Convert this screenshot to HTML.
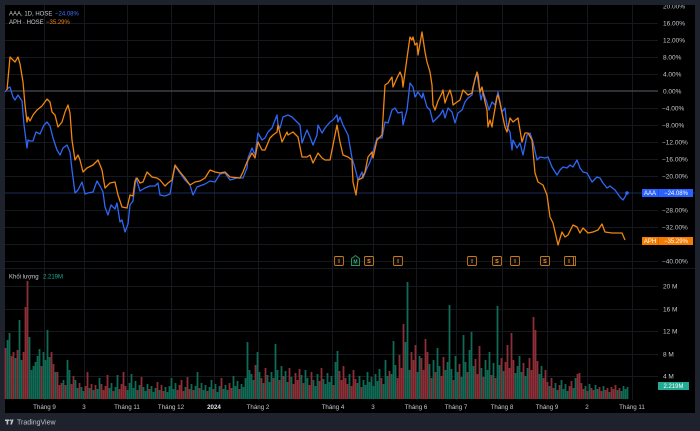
<!DOCTYPE html>
<html><head><meta charset="utf-8">
<style>
html,body{margin:0;padding:0;background:#1e222d;}
svg{display:block;}
text{font-family:"Liberation Sans",sans-serif;}
</style></head>
<body>
<svg width="700" height="431" viewBox="0 0 700 431" xmlns="http://www.w3.org/2000/svg">
<rect x="0" y="0" width="700" height="431" fill="#1e222d"/>
<rect x="5" y="5" width="690" height="408" fill="#000"/>
<g stroke="#15181e" stroke-width="1">
<line x1="5" y1="23.5" x2="658" y2="23.5"/><line x1="5" y1="40.5" x2="658" y2="40.5"/><line x1="5" y1="57.5" x2="658" y2="57.5"/><line x1="5" y1="74.5" x2="658" y2="74.5"/>
<line x1="5" y1="108.5" x2="658" y2="108.5"/><line x1="5" y1="125.5" x2="658" y2="125.5"/><line x1="5" y1="142.5" x2="658" y2="142.5"/><line x1="5" y1="159.5" x2="658" y2="159.5"/><line x1="5" y1="176.5" x2="658" y2="176.5"/><line x1="5" y1="210.5" x2="658" y2="210.5"/><line x1="5" y1="227.5" x2="658" y2="227.5"/><line x1="5" y1="244.5" x2="658" y2="244.5"/><line x1="5" y1="261.5" x2="658" y2="261.5"/>
<line x1="5" y1="268.5" x2="695" y2="268.5"/>
<line x1="5" y1="286.5" x2="658" y2="286.5"/><line x1="5" y1="309.5" x2="658" y2="309.5"/><line x1="5" y1="331.5" x2="658" y2="331.5"/><line x1="5" y1="354.5" x2="658" y2="354.5"/><line x1="5" y1="376.5" x2="658" y2="376.5"/>
<line x1="44.5" y1="5" x2="44.5" y2="400"/><line x1="84.5" y1="5" x2="84.5" y2="400"/><line x1="127.5" y1="5" x2="127.5" y2="400"/><line x1="171.5" y1="5" x2="171.5" y2="400"/><line x1="214.5" y1="5" x2="214.5" y2="400"/><line x1="258.5" y1="5" x2="258.5" y2="400"/><line x1="332.5" y1="5" x2="332.5" y2="400"/><line x1="373.5" y1="5" x2="373.5" y2="400"/><line x1="416.5" y1="5" x2="416.5" y2="400"/><line x1="456.5" y1="5" x2="456.5" y2="400"/><line x1="502.5" y1="5" x2="502.5" y2="400"/><line x1="547.5" y1="5" x2="547.5" y2="400"/><line x1="587.5" y1="5" x2="587.5" y2="400"/><line x1="632.5" y1="5" x2="632.5" y2="400"/>
</g>
<line x1="5" y1="91" x2="658" y2="91" stroke="#4a4d55" stroke-width="1.2"/>
<line x1="5" y1="193" x2="695" y2="193" stroke="#1b2b5c" stroke-width="1"/>
<!-- volume bars -->
<g transform="translate(0.5,0)" stroke-width="1.8" fill="none">
<path stroke="#8e2e36" d="M5 399V348M11 399V356M13 399V352M17 399V350M23 399V352M25 399V307M27 399V281M41 399V366M51 399V352M53 399V364M57 399V372M59 399V385M61 399V383M65 399V385M71 399V384M73 399V376M79 399V383M85 399V386M87 399V372M91 399V384M95 399V385M101 399V384M103 399V390M105 399V386M107 399V375M113 399V391M119 399V389M121 399V384M123 399V372M125 399V386M137 399V390M141 399V377M149 399V389M157 399V382M161 399V385M163 399V391M177 399V390M179 399V385M181 399V380M183 399V391M187 399V377M189 399V389M193 399V390M199 399V388M207 399V391M213 399V389M221 399V378M229 399V383M231 399V388M239 399V389M255 399V365M261 399V378M265 399V368M273 399V378M279 399V380M283 399V376M289 399V368M293 399V384M295 399V373M297 399V380M299 399V369M303 399V383M309 399V385M311 399V372M319 399V381M321 399V368M333 399V385M339 399V371M341 399V380M343 399V366M345 399V378M347 399V384M351 399V386M353 399V370M355 399V379M361 399V387M381 399V378M389 399V371M397 399V378M399 399V355M401 399V368M403 399V324M411 399V352M413 399V360M415 399V345M421 399V358M423 399V370M425 399V339M427 399V352M431 399V378M435 399V372M441 399V376M443 399V357M453 399V380M459 399V364M467 399V372M475 399V359M477 399V374M479 399V346M483 399V377M491 399V375M495 399V378M501 399V358M505 399V362M507 399V345M509 399V368M511 399V333M513 399V360M523 399V363M529 399V358M531 399V370M533 399V317M535 399V330M537 399V361M543 399V378M545 399V370M547 399V382M551 399V378M553 399V388M559 399V385M569 399V386M571 399V381M577 399V374M579 399V373M581 399V383M583 399V389M587 399V391M591 399V388M593 399V390M599 399V387M601 399V391M605 399V390M607 399V388M611 399V387M613 399V389M615 399V385M619 399V388"/>
<path stroke="#0f6a56" d="M7 399V340M9 399V333M15 399V358M19 399V320M21 399V360M29 399V337M31 399V370M33 399V366M35 399V362M37 399V356M39 399V349M43 399V352M45 399V360M47 399V330M49 399V357M55 399V372M63 399V380M67 399V360M69 399V370M75 399V380M77 399V388M81 399V387M83 399V391M89 399V388M93 399V390M97 399V389M99 399V378M109 399V388M111 399V383M115 399V387M117 399V375M127 399V390M129 399V383M131 399V374M133 399V388M135 399V381M139 399V385M143 399V387M145 399V391M147 399V384M151 399V386M153 399V392M155 399V388M159 399V390M165 399V387M167 399V392M169 399V386M171 399V378M173 399V389M175 399V383M185 399V387M191 399V384M195 399V386M197 399V372M201 399V383M203 399V390M205 399V385M209 399V387M211 399V380M215 399V384M217 399V392M219 399V386M223 399V389M225 399V385M227 399V390M233 399V376M235 399V386M237 399V381M241 399V384M243 399V387M245 399V378M247 399V342M249 399V370M251 399V374M253 399V380M257 399V352M259 399V372M263 399V383M267 399V375M269 399V382M271 399V372M275 399V344M277 399V370M281 399V366M285 399V371M287 399V382M291 399V377M301 399V375M305 399V370M307 399V378M313 399V380M315 399V386M317 399V374M323 399V379M325 399V384M327 399V373M329 399V382M331 399V376M335 399V362M337 399V351M349 399V374M357 399V383M359 399V376M363 399V380M365 399V385M367 399V372M369 399V382M371 399V377M373 399V386M375 399V374M377 399V381M379 399V369M383 399V384M385 399V360M387 399V376M391 399V374M393 399V341M395 399V365M405 399V342M407 399V282M409 399V370M417 399V372M419 399V356M429 399V364M433 399V360M437 399V348M439 399V366M445 399V370M447 399V362M449 399V305M451 399V369M455 399V356M457 399V372M461 399V377M463 399V335M465 399V362M469 399V350M471 399V332M473 399V366M481 399V368M485 399V360M487 399V370M489 399V352M493 399V363M497 399V306M499 399V365M503 399V371M515 399V373M517 399V366M519 399V356M521 399V372M525 399V376M527 399V368M539 399V374M541 399V366M549 399V386M555 399V383M557 399V390M561 399V380M563 399V389M565 399V384M567 399V391M573 399V388M575 399V378M585 399V386M589 399V384M595 399V385M597 399V389M603 399V386M609 399V392M617 399V390M621 399V391M623 399V386M625 399V389M627 399V387"/>
</g>
<polyline fill="none" stroke="#2e66f5" stroke-width="1.3" stroke-linejoin="round" points="5,92 8,88 10,87 13,97 15,100 18,95 20,98 22,101 24,125 27,148 28,140 30,141 33,141 36,132 40,134 44,125 47,122 50,126 53,138 57,150 60,155 63,148 67,145 70,152 72,170 75,193 78,190 82,182 85,194 88,193 93,192 97,181 100,186 103,192 105,207 108,215 111,205 115,209 117,203 120,222 122,220 125,232 128,224 130,205 133,201 136,178 140,191 145,188 150,186 155,186 158,183 160,195 165,196 170,194 175,166 180,173 185,180 190,185 193,195 197,187 205,184 210,181 215,182 220,174 225,173 230,180 237,178 243,178 247,168 248,158 252,148 255,155 258,133 262,140 265,138 268,132 272,128 277,115 278,125 280,128 283,117 288,115 292,117 297,122 300,125 302,143 305,135 307,130 310,137 313,145 317,135 318,125 322,133 325,128 330,122 333,120 337,115 338,122 340,117 343,125 348,135 352,158 355,168 358,180 362,172 363,178 367,168 370,162 373,152 377,138 382,138 385,122 388,123 392,110 395,108 398,113 402,112 403,125 407,110 410,83 413,87 415,97 418,92 422,98 423,93 427,107 430,110 433,122 437,118 440,115 443,110 445,118 448,108 452,112 455,123 458,113 462,110 465,102 468,98 472,95 475,78 477,73 479,87 481,100 483,92 487,103 489,110 492,102 495,105 498,92 502,112 505,108 507,127 510,132 512,150 513,140 517,148 520,143 523,155 527,135 530,133 533,142 537,160 540,157 545,158 548,157 552,167 557,175 560,170 563,167 567,168 570,165 573,167 577,160 580,168 583,172 587,173 592,182 597,177 600,178 603,183 607,188 610,186 615,190 620,197 623,200 625,197 627,193"/>
<circle cx="627" cy="193" r="1.8" fill="#2e66f5"/>
<polyline fill="none" stroke="#f0850f" stroke-width="1.3" stroke-linejoin="round" points="7,90 10,57 13,60 15,62 18,57 20,64 23,82 25,105 27,122 28,117 30,121 33,115 37,110 42,106 47,99 50,102 52,112 55,115 58,127 62,122 65,112 68,105 70,113 72,140 75,160 78,155 80,160 83,172 87,168 93,165 98,160 102,170 105,188 110,183 115,182 118,195 122,207 127,208 130,195 133,196 135,181 137,178 140,183 143,182 147,172 152,177 157,178 160,180 165,186 168,183 172,180 175,165 180,172 185,178 190,185 195,182 200,181 205,178 210,170 215,172 220,173 225,172 230,177 240,178 243,172 247,162 252,153 255,158 258,142 262,150 265,150 270,138 273,135 277,132 278,125 282,142 287,132 288,135 293,132 298,137 302,157 307,157 310,155 313,163 318,153 322,158 325,160 330,160 333,145 337,125 340,142 343,155 348,157 352,160 353,182 356,195 358,180 362,178 365,172 368,157 372,152 373,158 377,140 382,135 385,85 388,83 392,77 393,87 397,78 400,72 402,77 403,87 407,58 410,37 412,40 413,37 415,45 417,43 418,55 422,32 425,52 427,62 430,72 432,85 433,105 435,110 438,101 442,93 443,90 445,103 447,97 450,90 452,97 453,105 457,102 460,100 463,90 465,92 468,95 472,93 473,87 477,72 478,75 480,92 482,87 485,102 487,110 488,127 490,120 492,127 493,120 497,97 498,95 500,103 502,113 505,127 507,132 510,118 513,122 518,118 520,130 522,142 525,133 528,133 532,140 535,173 538,182 543,185 547,195 550,217 553,223 558,245 562,232 565,237 568,235 573,225 577,227 580,233 583,228 588,233 593,232 598,230 602,224 605,232 612,233 622,233 625,240"/>
<!-- markers -->
<g font-size="5.5" font-weight="bold" text-anchor="middle" fill="#e39a3a">
<g stroke="#c47a1c" stroke-width="0.9" fill="#0b0b0b">
<rect x="334.5" y="256.5" width="9" height="9" rx="1.2"/>
<rect x="364.5" y="256.5" width="9" height="9" rx="1.2"/>
<rect x="393.5" y="256.5" width="9" height="9" rx="1.2"/>
<rect x="467.5" y="256.5" width="9" height="9" rx="1.2"/>
<rect x="492.5" y="256.5" width="9" height="9" rx="1.2"/>
<rect x="510.5" y="256.5" width="9" height="9" rx="1.2"/>
<rect x="540.5" y="256.5" width="9" height="9" rx="1.2"/>
<rect x="564.5" y="256.5" width="9" height="9" rx="1.2"/>
<rect x="573.5" y="256.5" width="2" height="9"/>
</g>
<path d="M351.5,258.5 L355.5,255.5 L359.5,258.5 L359.5,265.5 L351.5,265.5 Z" fill="#0b0b0b" stroke="#2a9a6a" stroke-width="0.9"/>
<text x="339" y="263">I</text><text x="369" y="263">S</text><text x="398" y="263">I</text><text x="472" y="263">I</text><text x="497" y="263">S</text><text x="515" y="263">I</text><text x="545" y="263">S</text><text x="569" y="263">I</text>
<text x="355.5" y="263.5" fill="#2fb07a" font-size="5">M</text>
</g>
<!-- price axis labels -->
<g font-size="6.5" fill="#c4c7ce">
<text x="663" y="8.3">20.00%</text><text x="663" y="25.3">16.00%</text><text x="663" y="42.3">12.00%</text><text x="663" y="59.3">8.00%</text><text x="663" y="76.3">4.00%</text><text x="663" y="93.3">0.00%</text><text x="662" y="110.3">−4.00%</text><text x="662" y="127.3">−8.00%</text><text x="662" y="144.3">−12.00%</text><text x="662" y="161.3">−16.00%</text><text x="662" y="178.3">−20.00%</text><text x="662" y="212.3">−28.00%</text><text x="662" y="229.3">−32.00%</text><text x="662" y="263.3">−40.00%</text>
<text x="663" y="288.3">20 M</text><text x="663" y="311.3">16 M</text><text x="663" y="333.3">12 M</text><text x="663" y="356.3">8 M</text><text x="663" y="378.3">4 M</text>
</g>
<!-- badges -->
<rect x="642" y="189" width="51" height="8" fill="#2962ff"/>
<line x1="658.5" y1="189" x2="658.5" y2="197" stroke="#1e4bd0" stroke-width="0.8"/>
<rect x="642" y="237" width="51" height="8" fill="#f57c00"/>
<line x1="658.5" y1="237" x2="658.5" y2="245" stroke="#c86400" stroke-width="0.8"/>
<rect x="658" y="382" width="31" height="8" fill="#22ab94"/>
<g font-size="6" fill="#fff" text-anchor="middle">
<text x="650" y="195.2">AAA</text><text x="676" y="195.2">−24.08%</text>
<text x="650" y="243.2">APH</text><text x="676" y="243.2">−35.29%</text>
<text x="673.5" y="388.2">2.219M</text>
</g>
<!-- legends -->
<g font-size="6">
<text x="9" y="15.5" fill="#c8cad0">AAA, 1D, HOSE</text><text x="55" y="15.5" fill="#3d74f5">−24.08%</text>
<text x="9" y="24" fill="#c8cad0">APH · HOSE</text><text x="46" y="24" fill="#f0850f">−35.29%</text>
<text x="9" y="278.5" fill="#c8cad0">Khối lượng</text><text x="43" y="278.5" fill="#22ab94">2.219M</text>
</g>
<!-- time axis -->
<g font-size="6.2" fill="#c4c7ce" text-anchor="middle">
<text x="44.5" y="409">Tháng 9</text><text x="84" y="409">3</text><text x="127" y="409">Tháng 11</text><text x="171" y="409">Tháng 12</text><text x="214" y="409" font-weight="bold" fill="#e0e2e6">2024</text><text x="258" y="409">Tháng 2</text><text x="333" y="409">Tháng 4</text><text x="373" y="409">3</text><text x="416" y="409">Tháng 6</text><text x="456" y="409">Tháng 7</text><text x="502" y="409">Tháng 8</text><text x="547" y="409">Tháng 9</text><text x="587" y="409">2</text><text x="632" y="409">Tháng 11</text>
</g>
<rect x="0" y="0" width="700" height="5" fill="#1e222d"/>
<!-- footer -->
<g fill="#c0c3ca">
<rect x="5" y="419.5" width="4" height="1.6"/><rect x="6.6" y="419.5" width="1.6" height="5"/>
<circle cx="10.3" cy="420.3" r="0.9"/>
<path d="M11.6,419.5 L13.6,419.5 L11.9,424.5 L10.3,424.5 Z"/>
<text x="17" y="424.5" font-size="7">TradingView</text>
</g>
</svg>
</body></html>
